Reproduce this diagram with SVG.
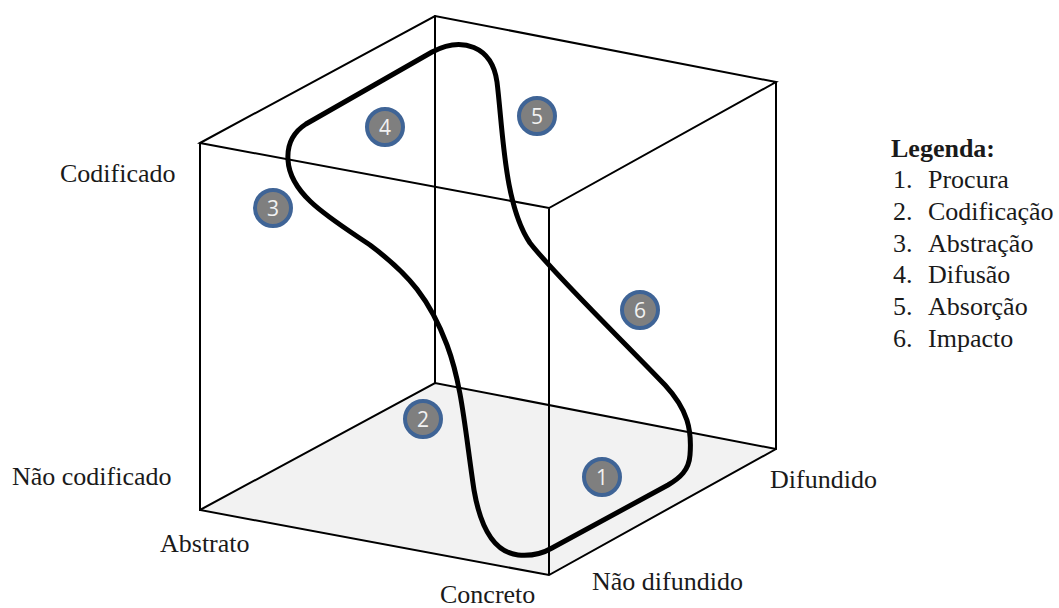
<svg xmlns="http://www.w3.org/2000/svg" width="1059" height="608" viewBox="0 0 1059 608">
<style>
.edge{stroke:#000;stroke-width:2;fill:none;stroke-linecap:round}
.lbl{font-family:"Liberation Serif","Times New Roman",serif;font-size:26px;fill:#1a1a1a}
.badge circle{fill:#7f7f7f;stroke:#3f6496;stroke-width:4}
.badge text{font-family:"Open Sans","Liberation Sans",sans-serif;font-size:21px;fill:#f2f2f2;text-anchor:middle}
</style>
<rect width="1059" height="608" fill="#fff"/>
<g id="floor">
<polygon points="200,510 435,383 776,449 549,575" fill="#f2f2f2"/>
</g>
<g id="connectors">
<path class="edge" d="M200,510 L435,383 L776,449 M435,383 L435,16"/>
<path class="edge" d="M200,143 L435,16 L776,82 L549,208 Z M200,143 L200,510 L549,575 L776,449 L776,82 M549,208 L549,575"/>
</g>
<g id="cycle">
<path d="M288,160 C287,145 292,133 306,124 L432,52 C462,36 492,46 497,82 C503,130 504,205 530,243 C555,275 620,338 665,385 C688,410 692,430 690,455 C689,470 680,478 668,485 L552,548 C540,555 528,556 518,555 C492,552 480,525 474,490 C465,430 462,385 447,345 C430,300 410,275 370,245 C330,218 290,195 288,160 Z" fill="none" stroke="#000" stroke-width="5"/>
</g>
<g id="badge1" class="badge"><circle cx="602" cy="477" r="18"/><text x="602" y="485">1</text></g>
<g id="badge2" class="badge"><circle cx="423" cy="419" r="18"/><text x="423" y="427">2</text></g>
<g id="badge3" class="badge"><circle cx="273" cy="208" r="18"/><text x="273" y="216">3</text></g>
<g id="badge4" class="badge"><circle cx="385" cy="127" r="18"/><text x="385" y="135">4</text></g>
<g id="badge5" class="badge"><circle cx="537" cy="116" r="18"/><text x="537" y="124">5</text></g>
<g id="badge6" class="badge"><circle cx="640" cy="310" r="18"/><text x="640" y="318">6</text></g>
<g id="axis-labels">
<text class="lbl" x="60" y="182">Codificado</text>
<text class="lbl" x="12" y="485">Não codificado</text>
<text class="lbl" x="160" y="552">Abstrato</text>
<text class="lbl" x="440" y="603">Concreto</text>
<text class="lbl" x="592" y="590">Não difundido</text>
<text class="lbl" x="770" y="488">Difundido</text>
</g>
<g id="legend">
<text class="lbl" x="891" y="157" font-weight="bold">Legenda:</text>
<text class="lbl" x="893" y="188">1.</text><text class="lbl" x="928" y="188">Procura</text>
<text class="lbl" x="893" y="220">2.</text><text class="lbl" x="928" y="220">Codificação</text>
<text class="lbl" x="893" y="252">3.</text><text class="lbl" x="928" y="252">Abstração</text>
<text class="lbl" x="893" y="283">4.</text><text class="lbl" x="928" y="283">Difusão</text>
<text class="lbl" x="893" y="315">5.</text><text class="lbl" x="928" y="315">Absorção</text>
<text class="lbl" x="893" y="347">6.</text><text class="lbl" x="928" y="347">Impacto</text>
</g>
</svg>
